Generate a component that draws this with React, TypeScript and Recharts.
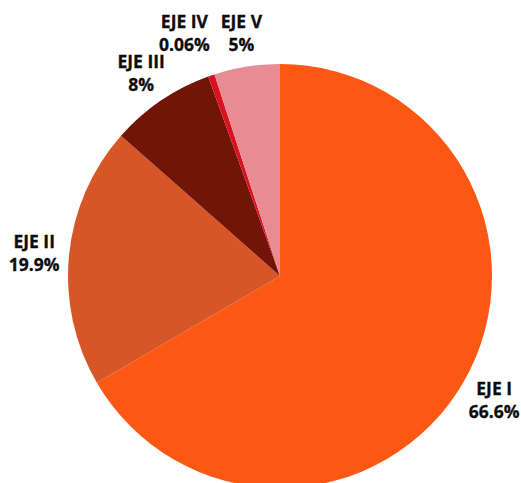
import React from 'react';
import { PieChart, Pie, Cell } from 'recharts';

const categories = ['EJE I', 'EJE II', 'EJE III', 'EJE IV', 'EJE V'];
const values = [66.6, 19.9, 8, 0.5, 5];
const percentLabels = ['66.6%', '19.9%', '8%', '0.06%', '5%'];
const colors = ['#FC5813', '#D65628', '#731408', '#DA1120', '#E78C92'];

const data = categories.map((name, i) => ({ name, value: values[i], label: percentLabels[i] }));

const RAD = Math.PI / 180;

const renderLabel = (props: any) => {
  const { cx, cy, midAngle, outerRadius, index, percent } = props;
  const small = percent < 0.01;
  const r = outerRadius + (small ? 50 : 35);
  const ang = midAngle + (small ? 2.5 : 0);
  const x = cx + r * Math.cos(-ang * RAD);
  const y = cy + r * Math.sin(-ang * RAD);
  const style = { fontFamily: "'Open Sans', sans-serif", fontWeight: 700, fontSize: 17.5 } as const;
  return (
    <g key={`lbl-${index}`}>
      <text x={x} y={y - 11} textAnchor="middle" dominantBaseline="central" fill="#0d0d0d" stroke="#0d0d0d" strokeWidth={0.3} style={style}>
        {categories[index]}
      </text>
      <text x={x} y={y + 12} textAnchor="middle" dominantBaseline="central" fill="#0d0d0d" stroke="#0d0d0d" strokeWidth={0.3} style={style}>
        {percentLabels[index]}
      </text>
    </g>
  );
};

export default function App() {
  return (
    <div style={{ position: 'absolute', left: 0, top: 0, width: 521, height: 483, background: '#fff' }}>
      <PieChart width={521} height={483} margin={{ top: 0, right: 0, bottom: 0, left: 0 }}>
        <Pie
          data={data}
          dataKey="value"
          nameKey="name"
          cx={280}
          cy={276}
          outerRadius={212}
          startAngle={90}
          endAngle={-270}
          stroke="none"
          label={renderLabel}
          labelLine={false}
          isAnimationActive={false}
        >
          {data.map((d, i) => (
            <Cell key={d.name} fill={colors[i]} />
          ))}
        </Pie>
      </PieChart>
    </div>
  );
}
